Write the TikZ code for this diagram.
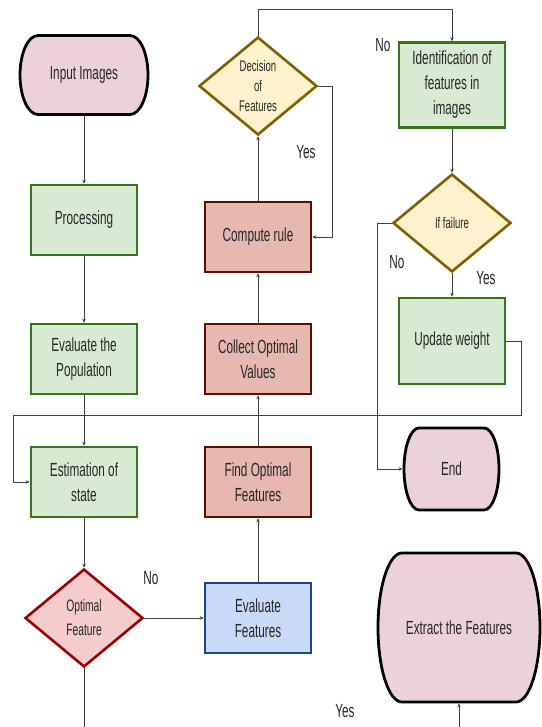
\documentclass[tikz,border=0pt]{standalone}
\usepackage{fontspec}
\setmainfont{Liberation Sans}[FakeStretch=0.62]
\usetikzlibrary{shapes.geometric,arrows.meta}
\definecolor{gfill}{HTML}{D9EAD3}
\definecolor{gline}{HTML}{38761D}
\definecolor{rfill}{HTML}{E6B8AF}
\definecolor{rline}{HTML}{5B0F00}
\definecolor{pfill}{HTML}{EAD1DC}
\definecolor{yfill}{HTML}{FFF2CC}
\definecolor{yline}{HTML}{7F6000}
\definecolor{dfill}{HTML}{F4CCCC}
\definecolor{dline}{HTML}{990000}
\definecolor{bfill}{HTML}{C9DAF8}
\definecolor{bline}{HTML}{1C4587}
\tikzset{
  txt/.style={font=\fontsize{19}{25}\selectfont, align=center, text=black!85},
  greenbox/.style={txt, rectangle, draw=gline, fill=gfill, line width=2.6pt, minimum width=106pt, minimum height=70pt, inner sep=2pt},
  redbox/.style={txt, rectangle, draw=rline, fill=rfill, line width=2.6pt, minimum width=106pt, minimum height=70pt, inner sep=2pt},
  bluebox/.style={txt, rectangle, draw=bline, fill=bfill, line width=2.6pt, minimum width=106pt, minimum height=70pt, inner sep=2pt},
  termline/.style={draw=black, fill=pfill, line width=2.8pt, line join=round},
  ydec/.style={font=\fontsize{15.4}{20}\selectfont, align=center, text=black!85, diamond, draw=yline, fill=yfill, line width=2.6pt, inner sep=0pt, minimum width=118pt, minimum height=98pt},
  rdec/.style={font=\fontsize{16.6}{24}\selectfont, align=center, text=black!85, diamond, draw=dline, fill=dfill, line width=2.6pt, inner sep=0pt, minimum width=118pt, minimum height=98pt},
  conn/.style={draw=black!75, line width=0.9pt, -{Stealth[length=4pt,width=3.5pt]}},
  plain/.style={draw=black!75, line width=0.9pt},
  lbl/.style={font=\fontsize{19}{22}\selectfont, text=black!85}
}
% name, cx, cy, w, h, d, text
\newcommand{\termshape}[7]{%
  \pgfmathsetmacro\tmL{#2-#4/2}%
  \pgfmathsetmacro\tmR{#2+#4/2}%
  \pgfmathsetmacro\tmT{#3-#5/2}%
  \pgfmathsetmacro\tmB{#3+#5/2}%
  \pgfmathsetmacro\tmLd{\tmL+#6}%
  \pgfmathsetmacro\tmRd{\tmR-#6}%
  \pgfmathsetmacro\tmLc{\tmLd-0.552*#6}%
  \pgfmathsetmacro\tmRc{\tmRd+0.552*#6}%
  \pgfmathsetmacro\tmUc{#3-0.552*#5/2}%
  \pgfmathsetmacro\tmDc{#3+0.552*#5/2}%
  \draw[termline] (\tmLd,\tmT) -- (\tmRd,\tmT)
    .. controls (\tmRc,\tmT) and (\tmR,\tmUc) .. (\tmR,#3)
    .. controls (\tmR,\tmDc) and (\tmRc,\tmB) .. (\tmRd,\tmB)
    -- (\tmLd,\tmB)
    .. controls (\tmLc,\tmB) and (\tmL,\tmDc) .. (\tmL,#3)
    .. controls (\tmL,\tmUc) and (\tmLc,\tmT) .. (\tmLd,\tmT) -- cycle;
  \node[txt, minimum width=#4pt, minimum height=#5pt, inner sep=0pt, outer sep=1.4pt] (#1) at (#2,#3) {#7};
}
\begin{document}
\begin{tikzpicture}[x=1pt,y=-1pt]
\fill[white] (0,0) rectangle (541,727);
\useasboundingbox (0,0) rectangle (541,727);

\termshape{in}{84}{75}{128}{79}{18}{Input Images}
\node[greenbox] (proc) at (84,220) {Processing};
\node[greenbox] (evp) at (84,359) {Evaluate the\\Population};
\node[greenbox] (est) at (84,482) {Estimation of\\state};
\node[rdec] (opt) at (84,618) {Optimal\\Feature};

\node[bluebox] (evf) at (258,618) {Evaluate\\Features};
\node[redbox] (fof) at (258,482) {Find Optimal\\Features};
\node[redbox] (cov) at (258,359) {Collect Optimal\\Values};
\node[redbox] (comp) at (258,237) {Compute rule};
\node[ydec] (dec) at (258,86) {Decision\\of\\Features};

\node[greenbox, minimum height=85pt] (ident) at (452,85) {Identification of\\features in\\images};
\node[ydec] (fail) at (452,223) {If failure};
\node[greenbox, minimum height=86pt] (upd) at (452,341) {Update weight};
\termshape{end}{451.5}{469}{95}{82}{15}{End}
\termshape{ext}{459}{627.5}{162}{149}{24}{Extract the Features}

\coordinate (optend) at (84,727);
\coordinate (extstart) at (459,727);
\coordinate (dtop) at (258,9);
\coordinate (dright) at (332,86);
\coordinate (fleft) at (377,223);
\coordinate (ur) at (521,341);
\coordinate (urb) at (521,415);
\coordinate (ulb) at (13,415);

\draw[conn] (in) -- (proc);
\draw[conn] (proc) -- (evp);
\draw[conn] (evp) -- (est);
\draw[conn] (est) -- (opt);
\draw[plain] (opt.south) -- (optend);
\draw[conn] (opt.east) -- (evf.west);
\draw[conn] (evf) -- (fof);
\draw[conn] (fof) -- (cov);
\draw[conn] (cov) -- (comp);
\draw[conn] (comp) -- (dec);
\draw[conn] (dec.north) -- (dtop) -| (ident.north);
\draw[conn] (dec.east) -- (dright) |- (comp.east);
\draw[conn] (ident) -- (fail);
\draw[conn] (fail) -- (upd);
\draw[conn] (fail.west) -- (fleft) |- (end.west);
\draw[conn] (upd.east) -- (ur) -- (urb) -- (ulb) |- (est.west);
\draw[conn] (extstart) -- (ext.south);

\node[lbl] at (151,578) {No};
\node[lbl] at (383,45) {No};
\node[lbl] at (306,152) {Yes};
\node[lbl] at (397,262) {No};
\node[lbl] at (486,278) {Yes};
\node[lbl] at (345,711) {Yes};
\end{tikzpicture}
\end{document}
